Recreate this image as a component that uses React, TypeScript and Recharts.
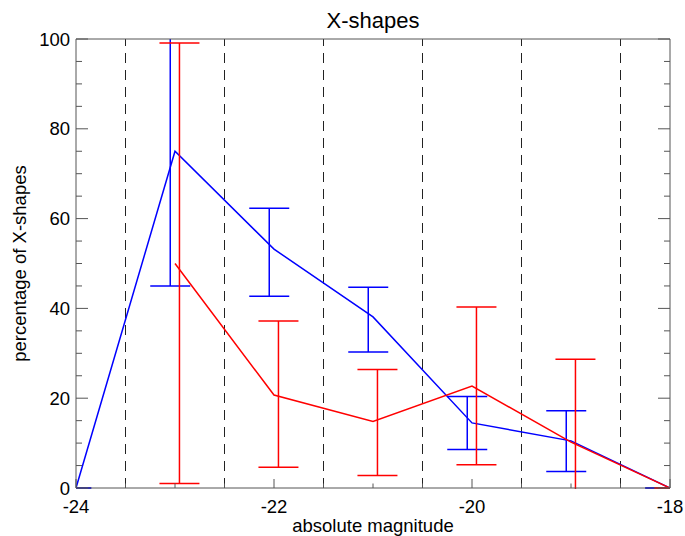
import React from 'react';
import { ComposedChart, Line, Scatter, ErrorBar, XAxis, YAxis, ReferenceLine } from 'recharts';

// absolute magnitude bins
const magnitudes = [-24, -23, -22, -21, -20, -19, -18];

// blue sample: percentage with lower / upper error limits
const bluePct = [0, 75, 53.2, 38.1, 14.5, 10.5, 0];
const blueLow = [0, 45, 42.7, 30.3, 8.6, 3.7, 0];
const blueHigh = [0, 106, 62.3, 44.7, 20.4, 17.2, 0];

// red sample (no value in the brightest bin)
const redPct = [null, 50, 20.7, 14.8, 22.7, 10.2, 0];
const redLow = [null, 1, 4.6, 2.8, 5.2, -8, 0];
const redHigh = [null, 99.1, 37.2, 26.4, 40.3, 28.7, 0];

// bin edges drawn as dashed verticals
const binEdges = [-23.5, -22.5, -21.5, -20.5, -19.5, -18.5];

const xMajorTicks = [-24, -22, -20, -18];
const xAllTicks = [-24, -23.5, -23, -22.5, -22, -21.5, -21, -20.5, -20, -19.5, -19, -18.5, -18];
const yMajorTicks = [0, 20, 40, 60, 80, 100];
const yAllTicks = [0, 5, 10, 15, 20, 25, 30, 35, 40, 45, 50, 55, 60, 65, 70, 75, 80, 85, 90, 95, 100];

// error bars are drawn a little off the bin centre, like the original plot
const BLUE_SHIFT = -0.048;
const RED_SHIFT = 0.045;

const lineData = magnitudes.map((m, i) => ({ x: m, blue: bluePct[i], red: redPct[i] }));

const blueErr = magnitudes.map((m, i) => ({
  x: m + BLUE_SHIFT,
  y: bluePct[i],
  err: [bluePct[i] - blueLow[i], blueHigh[i] - bluePct[i]],
}));

const redErr = magnitudes
  .map((m, i) => ({ m, i }))
  .filter(({ i }) => redPct[i] !== null)
  .map(({ m, i }) => ({
    x: m + RED_SHIFT,
    y: redPct[i] as number,
    err: [(redPct[i] as number) - (redLow[i] as number), (redHigh[i] as number) - (redPct[i] as number)],
  }));

// layout
const W = 685;
const H = 536;
const M_TOP = 39;
const M_RIGHT = 15;
const Y_AXIS_W = 76;
const X_AXIS_H = 48;
const PLOT = { x: Y_AXIS_W, y: M_TOP, w: W - Y_AXIS_W - M_RIGHT, h: H - M_TOP - X_AXIS_H };

const AXIS = '#555';
const FONT = 18.5;

// inward tick marks, IDL style; labels only on majors of bottom / left
const renderTick = (p: any, side: string, majors: number[], majorLen: number, minorLen: number, labelled: boolean) => {
  const { x, y, payload } = p;
  const v = payload.value;
  const major = majors.includes(v);
  const L = major ? majorLen : minorLen;
  let x2 = x;
  let y2 = y;
  if (side === 'bottom') y2 = y - L;
  if (side === 'top') y2 = y + L;
  if (side === 'left') x2 = x + L;
  if (side === 'right') x2 = x - L;
  return (
    <g>
      <line x1={x} y1={y} x2={x2} y2={y2} stroke={AXIS} strokeWidth={1} />
      {labelled && major && side === 'bottom' && (
        <text x={x} y={y + 11.7} dy="0.71em" textAnchor="middle" fontSize={FONT} fill="#000">
          {v}
        </text>
      )}
      {labelled && major && side === 'left' && (
        <text x={x - 6} y={y} dy="0.355em" textAnchor="end" fontSize={FONT} fill="#000">
          {v}
        </text>
      )}
    </g>
  );
};

const NoDot = () => <g />;

export default function App() {
  return (
    <div style={{ position: 'relative', width: W, height: H, fontFamily: '"Liberation Sans", Arial, sans-serif' }}>
      <style>{'body{margin:0} .recharts-errorBars, .recharts-errorBar { clip-path: url(#plot-clip); }'}</style>
      <svg width={0} height={0} style={{ position: 'absolute' }}>
        <defs>
          {/* error bars running past the frame are cut at the plot box (bottom edge kept so zero caps show) */}
          <clipPath id="plot-clip" clipPathUnits="userSpaceOnUse">
            <rect x={PLOT.x} y={PLOT.y} width={PLOT.w} height={PLOT.h + 1} />
          </clipPath>
        </defs>
      </svg>
      <div
        style={{
          position: 'absolute',
          left: PLOT.x,
          width: PLOT.w,
          top: 10.4,
          textAlign: 'center',
          fontSize: 22,
          lineHeight: '22px',
          color: '#000',
        }}
      >
        X-shapes
      </div>
      <ComposedChart width={W} height={H} data={lineData} margin={{ top: M_TOP, right: M_RIGHT, bottom: 0, left: 0 }}>
        <XAxis
          dataKey="x"
          type="number"
          domain={[-24, -18]}
          allowDataOverflow
          ticks={xAllTicks}
          interval={0}
          height={X_AXIS_H}
          tickSize={0}
          tickMargin={0}
          tickLine={false}
          axisLine={{ stroke: AXIS }}
          tick={(p: any) => renderTick(p, 'bottom', xMajorTicks, 9, 4.5, true)}
          label={{ value: 'absolute magnitude', position: 'insideBottom', offset: 4, fontSize: FONT, fill: '#000' }}
        />
        <XAxis
          xAxisId="top"
          type="number"
          orientation="top"
          mirror
          domain={[-24, -18]}
          allowDataOverflow
          ticks={xAllTicks}
          interval={0}
          height={20}
          tickSize={0}
          tickMargin={0}
          tickLine={false}
          axisLine={{ stroke: AXIS }}
          tick={(p: any) => renderTick(p, 'top', xMajorTicks, 9, 4.5, false)}
        />
        <YAxis
          type="number"
          domain={[0, 100]}
          allowDataOverflow
          ticks={yAllTicks}
          interval={0}
          width={Y_AXIS_W}
          tickSize={0}
          tickMargin={0}
          tickLine={false}
          axisLine={{ stroke: AXIS }}
          tick={(p: any) => renderTick(p, 'left', yMajorTicks, 12, 6, true)}
          label={{
            value: 'percentage of X-shapes',
            angle: -90,
            position: 'insideLeft',
            offset: 19,
            fontSize: FONT,
            fill: '#000',
            style: { textAnchor: 'middle' },
          }}
        />
        <YAxis
          yAxisId="right"
          type="number"
          orientation="right"
          mirror
          domain={[0, 100]}
          allowDataOverflow
          ticks={yAllTicks}
          interval={0}
          width={20}
          tickSize={0}
          tickMargin={0}
          tickLine={false}
          axisLine={{ stroke: AXIS }}
          tick={(p: any) => renderTick(p, 'right', yMajorTicks, 12, 6, false)}
        />
        {binEdges.map((e) => (
          <ReferenceLine key={e} x={e} stroke="#222" strokeWidth={1} strokeDasharray="10 7" />
        ))}
        <Line
          dataKey="blue"
          type="linear"
          stroke="#0000ff"
          strokeWidth={1.5}
          dot={false}
          activeDot={false}
          isAnimationActive={false}
        />
        <Scatter data={blueErr} dataKey="y" shape={NoDot} isAnimationActive={false} legendType="none">
          <ErrorBar dataKey="err" direction="y" width={20} stroke="#0000ff" strokeWidth={1.5} isAnimationActive={false} />
        </Scatter>
        <Line
          dataKey="red"
          type="linear"
          stroke="#ff0000"
          strokeWidth={1.5}
          dot={false}
          activeDot={false}
          connectNulls={false}
          isAnimationActive={false}
        />
        <Scatter data={redErr} dataKey="y" shape={NoDot} isAnimationActive={false} legendType="none">
          <ErrorBar dataKey="err" direction="y" width={20} stroke="#ff0000" strokeWidth={1.5} isAnimationActive={false} />
        </Scatter>
      </ComposedChart>
    </div>
  );
}
